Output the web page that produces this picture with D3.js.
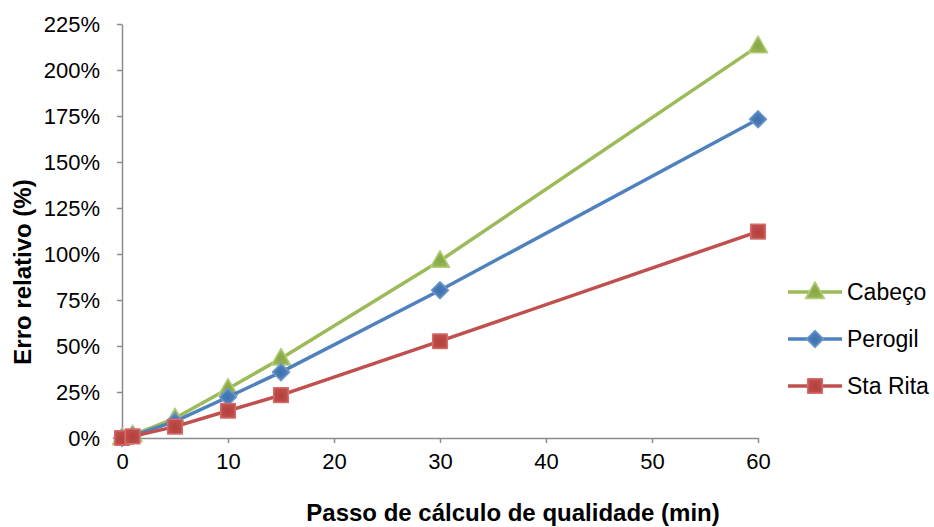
<!DOCTYPE html>
<html>
<head>
<meta charset="utf-8">
<script src="https://cdn.jsdelivr.net/npm/d3@7"></script>
<style>
  html, body { margin: 0; padding: 0; background: #fff; }
  svg { display: block; font-family: "Liberation Sans", Arial, sans-serif; }
</style>
</head>
<body>
<svg id="chart" width="934" height="527"></svg>
<script>
// Time step (minutes) of the quality calculation
const passos = [0, 1, 5, 10, 15, 30, 60];
// Relative error (fraction) for each station
const cabeco  = [0, 0.015, 0.107, 0.268, 0.432, 0.963, 2.13];
const perogil = [0, 0.012, 0.090, 0.223, 0.358, 0.803, 1.732];
const staRita = [0, 0.009, 0.062, 0.148, 0.233, 0.526, 1.122];
const seriesNames = ["Cabeço", "Perogil", "Sta Rita"];
const xTicks = [0, 10, 20, 30, 40, 50, 60];
const yTicks = [0, 0.25, 0.5, 0.75, 1, 1.25, 1.5, 1.75, 2, 2.25];

const series = [
  { name: seriesNames[0], values: cabeco,  color: "#9BBB59", light: "#B3CD7A", dark: "#86A646", shape: "triangle" },
  { name: seriesNames[1], values: perogil, color: "#4F81BD", light: "#6E98CB", dark: "#3E70AD", shape: "diamond" },
  { name: seriesNames[2], values: staRita, color: "#C0504D", light: "#D46E6A", dark: "#B43F3C", shape: "square" }
];

const svg = d3.select("#chart");
const x = d3.scaleLinear().domain([0, 60]).range([122, 758]);
const y = d3.scaleLinear().domain([0, 2.25]).range([438, 24]);

// marker gradients
const defs = svg.append("defs");
series.forEach((s, i) => {
  const g = defs.append("radialGradient").attr("id", "mk" + i)
    .attr("cx", "50%").attr("cy", "55%").attr("r", "60%");
  g.append("stop").attr("offset", "0%").attr("stop-color", s.dark);
  g.append("stop").attr("offset", "100%").attr("stop-color", s.color);
});

const fmt = d => Math.round(d * 100) + "%";

// y axis
const yAxis = svg.append("g").attr("transform", `translate(${x(0)},0)`)
  .call(d3.axisLeft(y).tickValues(yTicks).tickFormat(fmt).tickSize(5).tickSizeOuter(0).tickPadding(17));
yAxis.select(".domain").attr("stroke", "#8c8c8c").attr("stroke-width", 1.5);
yAxis.selectAll(".tick line").attr("stroke", "#8c8c8c").attr("stroke-width", 1.5);
yAxis.selectAll(".tick text").attr("font-size", 22).attr("fill", "#000")
  .attr("font-family", "Liberation Sans, Arial, sans-serif");

// x axis
const xAxis = svg.append("g").attr("transform", `translate(0,${y(0)})`)
  .call(d3.axisBottom(x).tickValues(xTicks).tickFormat(d3.format("d")).tickSize(5).tickSizeOuter(0).tickPadding(10));
xAxis.select(".domain").attr("stroke", "#8c8c8c").attr("stroke-width", 1.5);
xAxis.selectAll(".tick line").attr("stroke", "#8c8c8c").attr("stroke-width", 1.5);
xAxis.selectAll(".tick text").attr("font-size", 22).attr("fill", "#000")
  .attr("font-family", "Liberation Sans, Arial, sans-serif");

// axis titles
svg.append("text").attr("x", 513).attr("y", 521).attr("text-anchor", "middle")
  .attr("font-size", 24).attr("font-weight", "bold").text("Passo de cálculo de qualidade (min)");
svg.append("text").attr("transform", "translate(31,272) rotate(-90)").attr("text-anchor", "middle")
  .attr("font-size", 24).attr("font-weight", "bold").text("Erro relativo (%)");

const line = d3.line().x((d, i) => x(passos[i])).y(d => y(d));

function drawMarker(g, s, i, cx, cy) {
  let d, rot = 0, dy = 0;
  if (s.shape === "triangle") { d = d3.symbol().type(d3.symbolTriangle).size(160)(); dy = 1; }
  else if (s.shape === "diamond") { d = d3.symbol().type(d3.symbolSquare).size(145)(); rot = 45; }
  else { d = d3.symbol().type(d3.symbolSquare).size(215)(); }
  g.append("path").attr("d", d)
    .attr("transform", `translate(${cx},${cy + dy}) rotate(${rot})`)
    .attr("fill", `url(#mk${i})`).attr("stroke", s.light).attr("stroke-width", 1.5)
    .attr("stroke-linejoin", "round");
}

series.forEach((s, i) => {
  const g = svg.append("g");
  g.append("path").datum(s.values).attr("d", line).attr("fill", "none")
    .attr("stroke", s.color).attr("stroke-width", 3.5).attr("stroke-linejoin", "round");
  s.values.forEach((v, j) => drawMarker(g, s, i, x(passos[j]), y(v)));
});

// legend
const legendY = [292, 339, 386];
series.forEach((s, i) => {
  const g = svg.append("g");
  g.append("line").attr("x1", 788).attr("x2", 842).attr("y1", legendY[i]).attr("y2", legendY[i])
    .attr("stroke", s.color).attr("stroke-width", 3.5);
  drawMarker(g, s, i, 815, legendY[i]);
  g.append("text").attr("x", 847).attr("y", legendY[i]).attr("dy", "0.36em")
    .attr("font-size", 23).attr("fill", "#000").text(s.name);
});
</script>
</body>
</html>
